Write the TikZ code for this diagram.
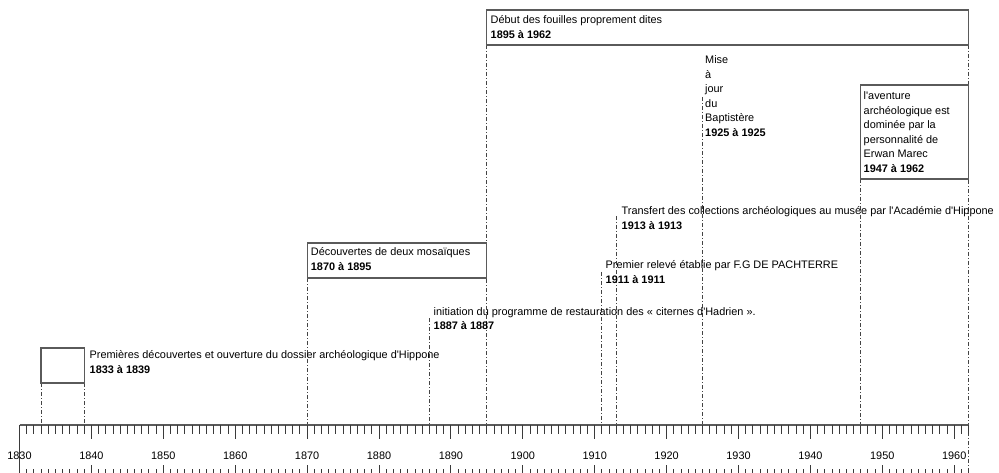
\documentclass[tikz,border=0pt]{standalone}
\usepackage{fontspec}
\setmainfont{Liberation Sans}[Ligatures=TeXOff]
\definecolor{boxgray}{HTML}{5A5A5A}
\definecolor{guidegray}{HTML}{444444}
\definecolor{tickgray}{HTML}{3A3A3A}
\newcommand\evt[1]{\vtop{\baselineskip=14.6pt\lineskiplimit=-20pt\halign{##\hfil\cr#1\crcr}}}
\begin{document}
\begin{tikzpicture}[x=1pt,y=-1pt,
  box/.style={draw=boxgray, line width=1.2pt},
  guide/.style={draw=guidegray, line width=0.9pt, dash pattern=on 4pt off 2pt on 1pt off 2pt},
  axisline/.style={draw=boxgray, line width=1.3pt},
  tickline/.style={draw=tickgray, line width=0.9pt},
  txt/.style={anchor=base west, inner sep=0pt, font=\fontsize{10.9}{14.6}\selectfont, text=black},
  lab/.style={anchor=base, inner sep=0pt, font=\fontsize{10.9}{13}\selectfont, text=black}]
\useasboundingbox (0,0) rectangle (999,473);
\clip (0,0) rectangle (999,473);
\fill[white] (0,0) rectangle (999,473);

% axis coordinates
\coordinate (axL) at (19.5,425);
\coordinate (axR) at (968.58,425);
\coordinate (a1833) at (41.07,425);
\coordinate (a1839) at (84.21,425);
\coordinate (a1870) at (307.1,425);
\coordinate (a1887) at (429.33,425);
\coordinate (a1895) at (486.85,425);
\coordinate (a1911) at (601.89,425);
\coordinate (a1913) at (616.27,425);
\coordinate (a1925) at (702.55,425);
\coordinate (a1947) at (860.73,425);
\coordinate (a1962) at (968.58,473);

% box corners / guide starts
\coordinate (b1nw) at (41.07,348);  \coordinate (b1se) at (84.21,383);
\coordinate (b1sw) at (41.07,383);  \coordinate (b1ne) at (84.21,348);
\coordinate (b2nw) at (307.1,243);  \coordinate (b2se) at (486.85,278);
\coordinate (b2sw) at (307.1,278);
\coordinate (b3nw) at (486.85,10);  \coordinate (b3se) at (968.58,45);
\coordinate (b3sw) at (486.85,45);
\coordinate (b4nw) at (860.73,85);  \coordinate (b4se) at (968.58,179);
\coordinate (b4sw) at (860.73,179); \coordinate (b3ne) at (968.58,45);
\coordinate (s1887) at (429.33,318);
\coordinate (s1911) at (601.89,272);
\coordinate (s1913) at (616.27,216);
\coordinate (s1925) at (702.55,97);

% guides
\draw[guide] (b1sw) -- (a1833);
\draw[guide] (b1se) -- (a1839);
\draw[guide] (b2sw) -- (a1870);
\draw[guide] (s1887) -- (a1887);
\draw[guide] (b3sw) -- (a1895);
\draw[guide] (s1911) -- (a1911);
\draw[guide] (s1913) -- (a1913);
\draw[guide] (s1925) -- (a1925);
\draw[guide] (b4sw) -- (a1947);
\draw[guide] (b3ne) -- (a1962);

% boxes
\draw[box] (b1nw) rectangle (b1se);
\draw[box] (b2nw) rectangle (b2se);
\draw[box] (b3nw) rectangle (b3se);
\draw[box] (b4nw) rectangle (b4se);

% axis and ticks
\draw[axisline] (axL) -- (axR);
\foreach \i in {0,...,132} {
  \draw[tickline] ({19.5+7.19*\i},425) -- ++(0,9);
  \draw[tickline] ({19.5+7.19*\i},469) -- (({19.5+7.19*\i},476);
}
\foreach \i in {0,10,...,130} {
  \draw[tickline] ({19.5+7.19*\i},425) -- ++(0,13.5);
  \draw[tickline] ({19.5+7.19*\i},465) -- ++(0,11);
}
\draw[tickline] (axL) -- ++(0,50);
\foreach \i [evaluate=\i as \yr using int(1830+\i)] in {0,10,...,130} {
  \node[lab] (lab\i) at ({19.5+7.19*\i},459) {\yr};
}

% texts
\node[txt] (t3) at (490.5,24) {\evt{Début des fouilles proprement dites\cr\textbf{1895 à 1962}}};
\node[txt] (t2) at (310.7,255.8) {\evt{Découvertes de deux mosaïques\cr\textbf{1870 à 1895}}};
\node[txt] (t1) at (89.5,358.5) {\evt{Premières découvertes et ouverture du dossier archéologique d'Hippone\cr\textbf{1833 à 1839}}};
\node[txt] (t4) at (705,63.6) {\evt{Mise\cr à\cr jour\cr du\cr Baptistère\cr\textbf{1925 à 1925}}};
\node[txt] (t5) at (863.5,99.5) {\evt{l'aventure\cr archéologique est\cr dominée par la\cr personnalité de\cr Erwan Marec\cr\textbf{1947 à 1962}}};
\node[txt] (t6) at (621.5,215) {\evt{Transfert des collections archéologiques au musée par l'Académie d'Hippone\cr\textbf{1913 à 1913}}};
\node[txt] (t7) at (605.5,269) {\evt{Premier relevé établie par F.G DE PACHTERRE\cr\textbf{1911 à 1911}}};
\node[txt] (t8) at (433.5,315) {\evt{initiation du programme de restauration des « citernes d'Hadrien ».\cr\textbf{1887 à 1887}}};
\end{tikzpicture}
\end{document}
